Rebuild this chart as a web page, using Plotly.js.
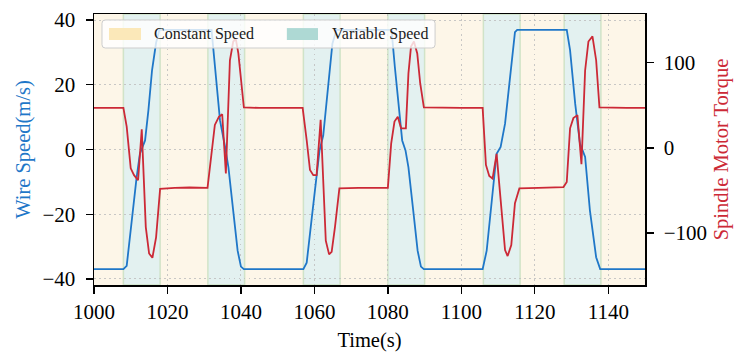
<!DOCTYPE html>
<html>
<head>
<meta charset="utf-8">
<script src="https://cdn.plot.ly/plotly-3.0.1.min.js"></script>
<style>
  html, body { margin: 0; padding: 0; background: #ffffff; }
  #chart { width: 745px; height: 361px; }
</style>
</head>
<body>
<div id="chart"></div>
<script>
// Wire speed (m/s) samples
const speedTime = [1000, 1008.0, 1008.9, 1010.3, 1011.6, 1012.5, 1013.4, 1013.9, 1014.8, 1015.8, 1016.9, 1017.8,
  1032.0, 1032.9, 1034.3, 1035.7, 1036.6, 1037.9, 1039.1, 1040.0, 1040.8,
  1057.0, 1057.9, 1059.3, 1060.6, 1061.4, 1062.4, 1063.8, 1064.9, 1066.0,
  1081.0, 1081.9, 1083.0, 1083.9, 1084.8, 1085.6, 1086.9, 1088.1, 1089.0, 1089.8,
  1105.8, 1106.9, 1109.6, 1110.7, 1111.9, 1113.3, 1114.6, 1115.2,
  1128.7, 1129.6, 1131.0, 1132.3, 1133.7, 1135.0, 1136.7, 1137.8, 1150];
const wireSpeed = [-37, -37, -36, -21, -8.6, -1.3, 1.8, 2.8, 12, 24.5, 33, 37,
  37, 26.5, 9, 0.7, -5.5, -19, -31.3, -36.2, -37,
  -37, -35, -21, -8.6, -0.3, 4.3, 20.3, 32.7, 37,
  37, 25.5, 12, 2.8, -0.3, -5.5, -18.8, -31.3, -36.2, -37,
  -37, -31.3, -1.3, 0.8, 8, 22.4, 36.3, 37,
  37, 30.7, 14.1, 1.8, -2.3, -18.8, -33.3, -37, -37];

// Spindle motor torque samples
const torqueTime = [1000, 1004, 1008.0, 1008.9, 1010.0, 1010.9, 1012.0, 1013.0, 1014.1, 1015.0, 1015.9, 1016.9, 1018.0,
  1022, 1026, 1030.9, 1032.9, 1034.0, 1034.9, 1035.9, 1037.0, 1037.9, 1038.6, 1039.3, 1040.8,
  1045, 1050, 1056.8, 1057.9, 1058.8, 1059.7, 1060.6, 1061.7, 1063.1, 1064.0, 1064.7, 1065.6, 1066.8,
  1072, 1080.0, 1080.9, 1081.8, 1082.7, 1083.6, 1084.9, 1085.6, 1086.3, 1087.1, 1088.0, 1088.8, 1089.8,
  1095, 1100, 1105.8, 1106.7, 1107.6, 1108.5, 1109.6, 1111.0, 1111.9, 1112.6, 1113.6, 1114.6, 1115.8,
  1121, 1127.8, 1128.7, 1129.6, 1130.5, 1131.6, 1132.7, 1133.7, 1134.6, 1135.7, 1136.7, 1137.6,
  1145, 1150];
const spindleTorque = [47, 47, 47, 25, -24, -32, -38, 22, -93, -124, -129, -105, -48,
  -47, -46.5, -47, 27, 36.5, 39.5, -30, 103, 125, 128, 111, 47.5,
  47, 47, 47, 9, -26, -32, -32, 33, -109, -125, -122, -93, -47.5,
  -47, -47, 5, 31, 36.5, 23, 23, 87.5, 119, 125, 111, 76, 47.5,
  47, 47, 47, -20, -33, -36, -7, -73, -120, -127, -114, -65, -47.5,
  -47, -46, -40, 23, 35, 38.5, -19, 91, 125, 131, 103, 47.5,
  47, 47];

// Operating phases
const constStart = [1000, 1018, 1041, 1067, 1090, 1116, 1138];
const constEnd   = [1008, 1031, 1057, 1080, 1106, 1128, 1150];
const varStart   = [1008, 1031, 1057, 1080, 1106, 1128];
const varEnd     = [1018, 1041, 1067, 1090, 1116, 1138];
const phaseLabels = ['Constant Speed', 'Variable Speed'];

const xTicks = [1000, 1020, 1040, 1060, 1080, 1100, 1120, 1140];
const yTicks = [-40, -20, 0, 20, 40];
const y2Ticks = [-100, 0, 100];

const BLUE = '#1f77c8';
const RED = '#cc2936';
const CONST_FILL = '#fdf6e8';
const VAR_FILL = '#e3f1f0';
const GRID = 'rgba(190,190,190,0.85)';
const GRID_DASH = '1.5px,3.5px';
const FONT = 'Liberation Serif, Times New Roman, serif';

const shapes = [];
constStart.forEach((s, i) => shapes.push({
  type: 'rect', xref: 'x', yref: 'paper', x0: s, x1: constEnd[i], y0: 0, y1: 1,
  fillcolor: CONST_FILL, line: {width: 0}, layer: 'below'
}));
varStart.forEach((s, i) => shapes.push({
  type: 'rect', xref: 'x', yref: 'paper', x0: s, x1: varEnd[i], y0: 0, y1: 1,
  fillcolor: VAR_FILL, line: {width: 1.5, color: 'rgba(205,225,195,0.9)'}, layer: 'below'
}));

// Legend box (rounded) with patches
function roundedBox(x0, x1, y0, y1, rx, ry) {
  return `M${x0 + rx},${y1} L${x1 - rx},${y1} Q${x1},${y1} ${x1},${y1 - ry} ` +
         `L${x1},${y0 + ry} Q${x1},${y0} ${x1 - rx},${y0} L${x0 + rx},${y0} ` +
         `Q${x0},${y0} ${x0},${y0 + ry} L${x0},${y1 - ry} Q${x0},${y1} ${x0 + rx},${y1} Z`;
}
shapes.push({
  type: 'path', xref: 'paper', yref: 'paper', layer: 'above',
  path: roundedBox(0.0145, 0.619, 0.8745, 0.978, 0.006, 0.012),
  fillcolor: 'rgba(255,255,255,0.8)', line: {color: 'rgba(205,205,205,1)', width: 1}
});
shapes.push({
  type: 'rect', xref: 'paper', yref: 'paper', layer: 'above',
  x0: 0.0272, x1: 0.0853, y0: 0.904, y1: 0.948,
  fillcolor: '#fbe8b9', line: {width: 0}
});
shapes.push({
  type: 'rect', xref: 'paper', yref: 'paper', layer: 'above',
  x0: 0.350, x1: 0.4065, y0: 0.904, y1: 0.948,
  fillcolor: '#aed9d4', line: {width: 0}
});

const annotations = [
  {text: phaseLabels[0], x: 0.106, xanchor: 'left'},
  {text: phaseLabels[1], x: 0.429, xanchor: 'left'}
].map(a => Object.assign({
  xref: 'paper', yref: 'paper', y: 0.926, yanchor: 'middle', showarrow: false,
  font: {family: FONT, size: 16, color: '#1a1a1a'}
}, a));

const traces = [
  {x: speedTime, y: wireSpeed, type: 'scatter', mode: 'lines', yaxis: 'y',
   line: {color: BLUE, width: 1.8}, showlegend: false, hoverinfo: 'skip'},
  {x: torqueTime, y: spindleTorque, type: 'scatter', mode: 'lines', yaxis: 'y2',
   line: {color: RED, width: 1.8}, showlegend: false, hoverinfo: 'skip'}
];

const tickFont = {family: FONT, size: 21, color: '#000'};
const layout = {
  width: 745, height: 361,
  margin: {l: 94, r: 100, t: 14, b: 76},
  paper_bgcolor: '#ffffff',
  plot_bgcolor: CONST_FILL,
  showlegend: false,
  xaxis: {
    range: [1000, 1150], tickvals: xTicks, ticktext: xTicks.map(String),
    showline: true, linecolor: '#000', linewidth: 1.5, mirror: true,
    ticks: 'outside', ticklen: 7, tickwidth: 1.3, tickcolor: '#000',
    showgrid: true, gridcolor: GRID, griddash: GRID_DASH, gridwidth: 1,
    zeroline: false, tickfont: tickFont,
    title: {text: 'Time(s)', font: {family: FONT, size: 20.5, color: '#000'}, standoff: 10}
  },
  yaxis: {
    range: [-41.9, 41.9], tickvals: yTicks,
    showline: true, linecolor: '#000', linewidth: 1.5,
    ticks: 'outside', ticklen: 7, tickwidth: 1.3, tickcolor: '#000', ticklabelstandoff: 6,
    showgrid: true, gridcolor: GRID, griddash: GRID_DASH, gridwidth: 1,
    zeroline: false, tickfont: tickFont,
    title: {text: 'Wire Speed(m/s)', font: {family: FONT, size: 20.5, color: BLUE}, standoff: 6}
  },
  yaxis2: {
    range: [-161, 157.3], tickvals: y2Ticks, overlaying: 'y', side: 'right',
    showline: true, linecolor: '#000', linewidth: 1.5,
    ticks: 'outside', ticklen: 7, tickwidth: 1.3, tickcolor: '#000', ticklabelstandoff: 6,
    showgrid: false, zeroline: false, tickfont: tickFont,
    title: {text: 'Spindle Motor Torque', font: {family: FONT, size: 20.5, color: RED}, standoff: 7}
  },
  shapes: shapes,
  annotations: annotations
};

Plotly.newPlot('chart', traces, layout, {staticPlot: true, displayModeBar: false});
</script>
</body>
</html>
